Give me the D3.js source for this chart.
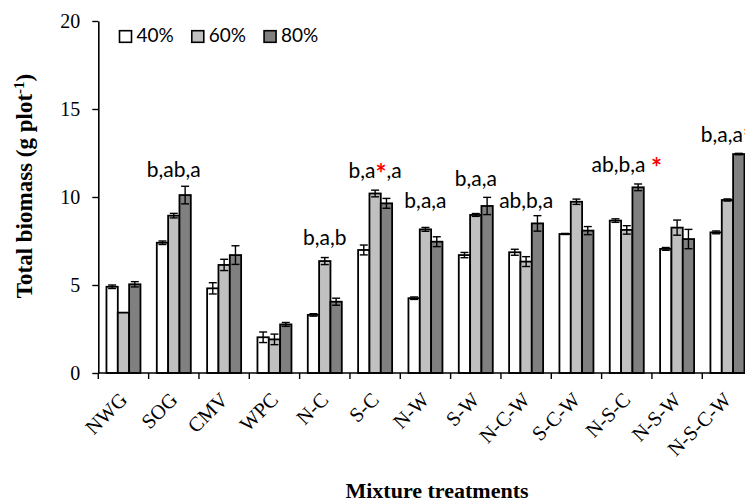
<!DOCTYPE html>
<html>
<head>
<meta charset="utf-8">
<script src="https://cdn.jsdelivr.net/npm/d3@7"></script>
<style>
  html, body { margin: 0; padding: 0; background: #fff; }
  svg { display: block; }
</style>
</head>
<body>
<svg id="chart" width="745" height="502"></svg>
<script>
// Mixture treatments on the x axis, one bar per moisture level
const categories = ["NWG", "SOG", "CMV", "WPC", "N-C", "S-C", "N-W", "S-W", "N-C-W", "S-C-W", "N-S-C", "N-S-W", "N-S-C-W"];
const seriesNames = ["40%", "60%", "80%"];

// Mean total biomass (g plot-1) and standard errors
const values40 = [4.90, 7.40, 4.81, 2.03, 3.30, 6.99, 4.25, 6.70, 6.86, 7.90, 8.66, 7.05, 7.99];
const errors40 = [0.10, 0.10, 0.32, 0.30, 0.07, 0.28, 0.07, 0.15, 0.17, 0.03, 0.10, 0.08, 0.08];
const values60 = [3.43, 8.94, 6.14, 1.91, 6.36, 10.20, 8.16, 8.98, 6.33, 9.73, 8.13, 8.26, 9.83];
const errors60 = [0.00, 0.13, 0.32, 0.30, 0.20, 0.19, 0.11, 0.08, 0.28, 0.15, 0.24, 0.43, 0.06];
const values80 = [5.04, 10.11, 6.70, 2.76, 4.05, 9.64, 7.46, 9.49, 8.50, 8.09, 10.55, 7.61, 12.44];
const errors80 = [0.15, 0.50, 0.53, 0.11, 0.20, 0.28, 0.28, 0.49, 0.44, 0.23, 0.19, 0.55, 0.04];

// Y axis ticks
const yTicks = [0, 5, 10, 15, 20];

// Significance letters ("*" is drawn as a red star) and the height they sit at
const annoCats = ["SOG", "N-C", "S-C", "N-W", "S-W", "N-C-W", "N-S-C", "N-S-C-W"];
const annoText = ["b,ab,a", "b,a,b", "b,a*,a", "b,a,a", "b,a,a", "ab,b,a", "ab,b,a *", "b,a,a*"];
const annoLevel = [11.15, 7.27, 11.08, 9.36, 10.63, 9.38, 11.44, 13.14];

const colors = {"40%": "#ffffff", "60%": "#c0c0c0", "80%": "#808080"};

const series = [
  {name: "40%", values: values40, errors: errors40},
  {name: "60%", values: values60, errors: errors60},
  {name: "80%", values: values80, errors: errors80}
];

const svg = d3.select("#chart");

const x0 = d3.scaleBand().domain(categories).range([98.3, 752.6]).paddingInner(0).paddingOuter(0);
const x1 = d3.scaleBand().domain(seriesNames).range([0, x0.bandwidth()]).paddingInner(0).paddingOuter(0.72);
const y = d3.scaleLinear().domain([0, 20]).range([373, 21]);

// Bars
const groups = svg.append("g").selectAll("g")
  .data(categories)
  .join("g")
  .attr("transform", d => `translate(${x0(d)},0)`);

groups.selectAll("rect")
  .data((c, i) => series.map(s => ({name: s.name, v: s.values[i], e: s.errors[i]})))
  .join("rect")
  .attr("x", d => x1(d.name))
  .attr("y", d => y(d.v))
  .attr("width", x1.bandwidth())
  .attr("height", d => y(0) - y(d.v))
  .attr("fill", d => colors[d.name])
  .attr("stroke", "#000")
  .attr("stroke-width", 1.8);

// Error bars (mean ± SE)
const cap = 4;
groups.selectAll("g.err")
  .data((c, i) => series.map(s => ({name: s.name, v: s.values[i], e: s.errors[i]})).filter(d => d.e > 0))
  .join("g")
  .attr("class", "err")
  .each(function(d) {
    const g = d3.select(this);
    const cx = x1(d.name) + x1.bandwidth() / 2;
    const yt = y(d.v + d.e), yb = y(d.v - d.e);
    g.append("line").attr("x1", cx).attr("x2", cx).attr("y1", yt).attr("y2", yb);
    g.append("line").attr("x1", cx - cap).attr("x2", cx + cap).attr("y1", yt).attr("y2", yt);
    g.append("line").attr("x1", cx - cap).attr("x2", cx + cap).attr("y1", yb).attr("y2", yb);
  })
  .selectAll("line")
  .attr("stroke", "#000")
  .attr("stroke-width", 1.4);

// Y axis
const yAxis = svg.append("g")
  .attr("transform", `translate(${x0.range()[0]},0)`)
  .call(d3.axisLeft(y).tickValues(yTicks).tickSize(6).tickSizeOuter(0).tickPadding(12));
yAxis.select(".domain").attr("stroke", "#000").attr("stroke-width", 1.6);
yAxis.selectAll(".tick line").attr("stroke", "#000").attr("stroke-width", 1.4);
yAxis.selectAll(".tick text")
  .attr("font-family", "'Liberation Serif', 'Times New Roman', serif")
  .attr("font-size", 20)
  .attr("fill", "#000");

// X axis: baseline and boundary ticks between treatment groups
const xAxisG = svg.append("g");
xAxisG.append("line")
  .attr("x1", x0.range()[0]).attr("x2", x0.range()[1])
  .attr("y1", y(0)).attr("y2", y(0))
  .attr("stroke", "#000").attr("stroke-width", 1.6);
const bounds = categories.map(c => x0(c)).concat([x0.range()[1]]);
xAxisG.selectAll("line.tick")
  .data(bounds)
  .join("line")
  .attr("class", "tick")
  .attr("x1", d => d).attr("x2", d => d)
  .attr("y1", y(0)).attr("y2", y(0) + 6)
  .attr("stroke", "#000").attr("stroke-width", 1.4);

xAxisG.selectAll("text")
  .data(categories)
  .join("text")
  .attr("transform", d => `translate(${x0(d) + x0.bandwidth() / 2 + 5},${y(0) + 28}) rotate(-45)`)
  .attr("text-anchor", "end")
  .attr("font-family", "'Liberation Serif', 'Times New Roman', serif")
  .attr("font-size", 20.5)
  .attr("fill", "#000")
  .text(d => d);

// Significance annotations
const annoG = svg.append("g")
  .attr("font-family", "Lato, 'Open Sans', sans-serif")
  .attr("font-size", 21)
  .attr("fill", "#000");
annoCats.forEach((c, i) => {
  const t = annoG.append("text")
    .attr("x", x0(c) + x0.bandwidth() / 2)
    .attr("y", y(annoLevel[i]))
    .attr("text-anchor", "middle");
  const parts = annoText[i].split("*");
  parts.forEach((p, j) => {
    if (p.length) t.append("tspan").attr("dy", j > 0 ? -5 : 0).text(p);
    if (j < parts.length - 1) {
      t.append("tspan")
        .attr("fill", "#ff0000")
        .attr("font-size", 26)
        .attr("font-weight", "bold")
        .attr("dy", 5)
        .text("*");
    }
  });
});

// Legend
const legend = svg.append("g")
  .attr("font-family", "Lato, 'Open Sans', sans-serif")
  .attr("font-size", 19);
let lx = 119.5;
seriesNames.forEach(name => {
  legend.append("rect")
    .attr("x", lx).attr("y", 30.7)
    .attr("width", 12).attr("height", 11.6)
    .attr("fill", colors[name])
    .attr("stroke", "#000").attr("stroke-width", 1.6);
  const t = legend.append("text")
    .attr("x", lx + 17).attr("y", 42)
    .attr("fill", "#000")
    .text(name);
  lx += 17 + t.node().getComputedTextLength() + 18;
});

// Axis titles
svg.append("text")
  .attr("transform", "translate(32,186) rotate(-90)")
  .attr("text-anchor", "middle")
  .attr("font-family", "'Liberation Serif', 'Times New Roman', serif")
  .attr("font-weight", "bold")
  .attr("font-size", 23)
  .attr("fill", "#000")
  .call(t => {
    t.append("tspan").text("Total biomass (g plot");
    t.append("tspan").attr("font-size", 15).attr("dy", -8).text("-1");
    t.append("tspan").attr("dy", 8).text(")");
  });

svg.append("text")
  .attr("x", 437).attr("y", 498)
  .attr("text-anchor", "middle")
  .attr("font-family", "'Liberation Serif', 'Times New Roman', serif")
  .attr("font-weight", "bold")
  .attr("font-size", 22)
  .attr("fill", "#000")
  .text("Mixture treatments");
</script>
</body>
</html>
